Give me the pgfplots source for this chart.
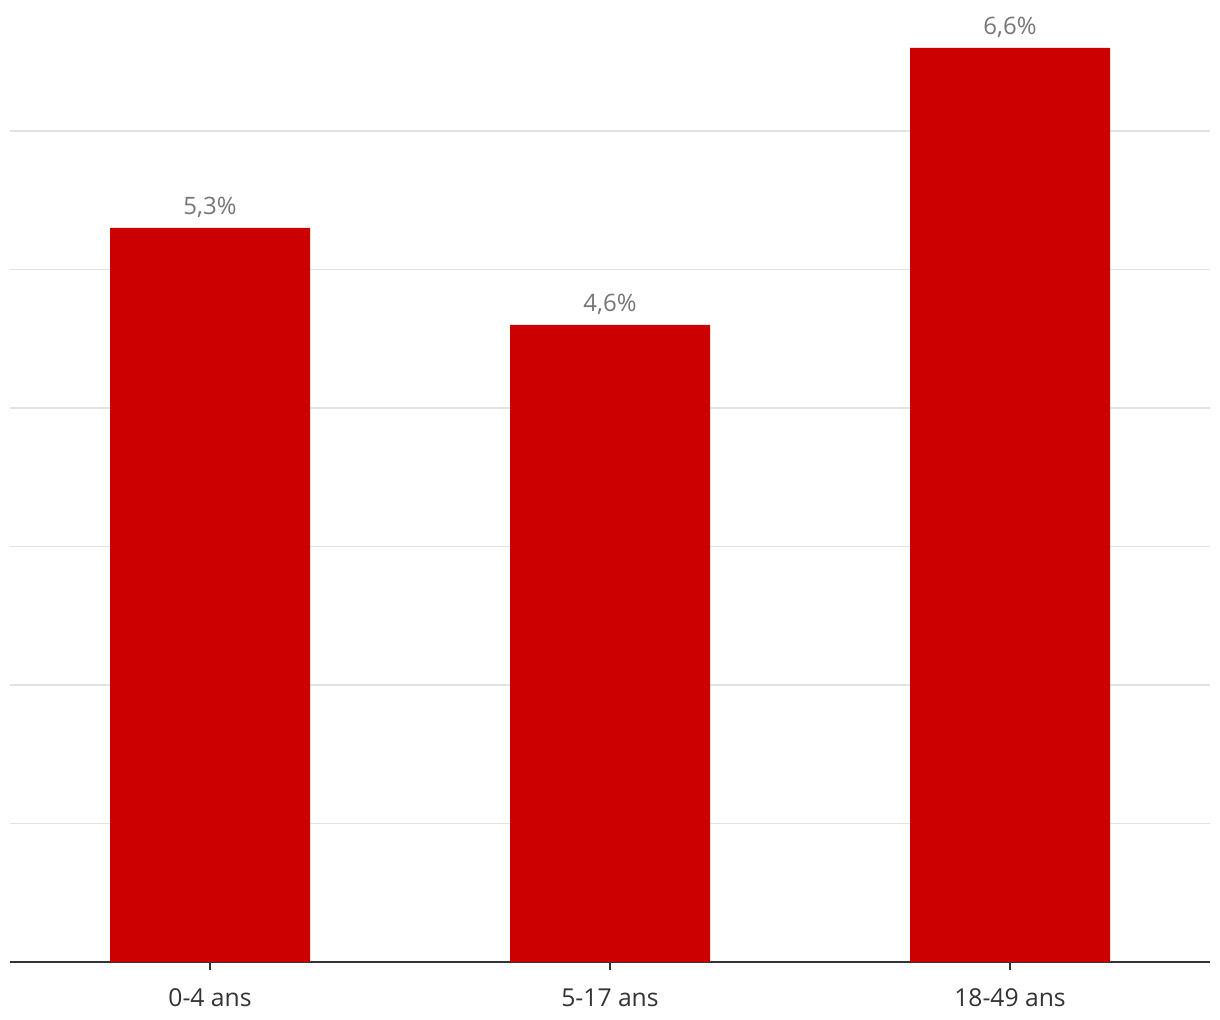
\documentclass[border=0pt]{standalone}
\usepackage{pgfplots}
\pgfplotsset{compat=1.18}
\usepackage{fontspec}
\setmainfont{Open Sans}
\definecolor{barred}{HTML}{CC0000}
\definecolor{gridc}{HTML}{E3E3E3}
\definecolor{labgray}{HTML}{767676}
\definecolor{axc}{HTML}{333333}
\begin{document}
\begin{tikzpicture}
\path[use as bounding box] (-7.5pt,-43.5pt) rectangle (907.5pt,721.5pt);
\begin{axis}[
  at={(0,0)}, anchor=south west,
  scale only axis,
  width=900pt, height=721.5pt,
  xmin=-0.5, xmax=2.5,
  ymin=0, ymax=6.946,
  axis x line*=bottom,
  axis y line*=left,
  y axis line style={draw=none},
  x axis line style={axc, line width=1.5pt, -},
  xtick=data,
  xticklabels={0-4 ans,5-17 ans,18-49 ans},
  xtick style={axc, line width=1.5pt},
  ytick style={draw=none},
  yticklabels={},
  tick align=outside,
  major tick length=6pt,
  xticklabel style={font=\fontsize{18.5}{22}\selectfont, text=axc, yshift=-10.5pt},
  ytick={1,2,3,4,5,6},
  ymajorgrids,
  major grid style={gridc, line width=1.3pt},
  clip=false,
  nodes near coords,
  point meta=explicit symbolic,
  nodes near coords style={font=\fontsize{18}{22}\selectfont, text=labgray, anchor=south, yshift=4pt},
]
\addplot[ybar, bar width=150pt, fill=barred, draw=none] coordinates {
  (0,5.3) [5,3\%]
  (1,4.6) [4,6\%]
  (2,6.6) [6,6\%]
};
\end{axis}
\end{tikzpicture}
\end{document}
